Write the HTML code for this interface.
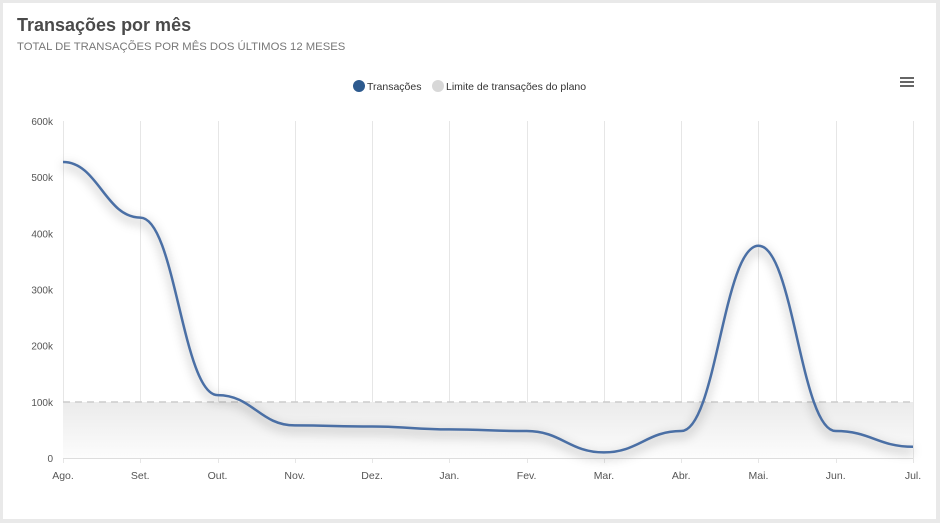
<!DOCTYPE html>
<html><head><meta charset="utf-8"><style>
body{margin:0;background:#e9e9e9;width:940px;height:523px;overflow:hidden;font-family:"Liberation Sans",sans-serif}
.card{position:absolute;left:3px;top:3px;width:933px;height:516px;background:#fff}
h1{position:absolute;left:17px;top:15px;margin:0;font-size:18px;font-weight:bold;color:#4a4a4a;font-family:"Liberation Sans",sans-serif}
.sub{position:absolute;left:17px;top:41px;font-size:11.3px;color:#777;font-family:"Liberation Sans",sans-serif}
svg{position:absolute;left:0;top:0}
</style></head><body>
<div class="card"></div>
<h1>Transações por mês</h1>
<div class="sub">TOTAL DE TRANSAÇÕES POR MÊS DOS ÚLTIMOS 12 MESES</div>
<svg id="s" width="940" height="523" font-family="Liberation Sans, sans-serif">
<defs>
<linearGradient id="g" x1="0" y1="0" x2="0" y2="1"><stop offset="0" stop-color="#ebebeb"/><stop offset="1" stop-color="#fcfcfc"/></linearGradient>
<filter id="sh" x="-10%" y="-10%" width="120%" height="130%"><feGaussianBlur stdDeviation="5"/></filter>
</defs>
<g id="grid"></g>
<rect x="63" y="402" width="850" height="56" fill="url(#g)"/>
<line x1="63" y1="402" x2="913" y2="402" stroke="#ccc" stroke-width="1.5" stroke-dasharray="7,5"/>
<line x1="63" y1="458.5" x2="913" y2="458.5" stroke="#ddd"/>
<path id="shadow" fill="none" stroke="#000" stroke-opacity="0.18" stroke-width="6" filter="url(#sh)" transform="translate(0,4)"/>
<path id="line" fill="none" stroke="#4a6fa5" stroke-width="2.5"/>
<circle cx="359" cy="86" r="6" fill="#2d5a8e"/>
<text x="367" y="90" font-size="10.5" fill="#333">Transações</text>
<circle cx="438" cy="86" r="6" fill="#d8d8d8"/>
<text x="446" y="90" font-size="10.5" fill="#333">Limite de transações do plano</text>
<g fill="#666"><rect x="900" y="77" width="14" height="2"/><rect x="900" y="81" width="14" height="2"/><rect x="900" y="85" width="14" height="2"/></g>
</svg>
<script>
var s=document.getElementById('grid');
var m=['Ago.','Set.','Out.','Nov.','Dez.','Jan.','Fev.','Mar.','Abr.','Mai.','Jun.','Jul.'];
var v=[527,428,112,58,56,51,48,10,48,378,48,20];
function X(i){return 63+i*850/11}function Y(k){return 458-k*337/600}
var h='';
for(var i=0;i<12;i++){var x=Math.round(X(i))+0.5;h+='<line x1="'+x+'" y1="121" x2="'+x+'" y2="463" stroke="#e6e6e6"/>';
h+='<text x="'+X(i)+'" y="479" font-size="10.5" fill="#555" text-anchor="middle">'+m[i]+'</text>';}
var yl=['0','100k','200k','300k','400k','500k','600k'];
for(var j=0;j<7;j++)h+='<text x="53" y="'+(Y(j*100)+4)+'" font-size="10" fill="#555" text-anchor="end">'+yl[j]+'</text>';
s.innerHTML=h;
var P=v.map(function(k,i){return[X(i),Y(k)]});
var d='M'+P[0][0]+' '+P[0][1],o=850/11*0.45;
for(var i=1;i<12;i++){d+=' C'+(P[i-1][0]+o)+' '+P[i-1][1]+' '+(P[i][0]-o)+' '+P[i][1]+' '+P[i][0]+' '+P[i][1];}
document.getElementById('line').setAttribute('d',d);
document.getElementById('shadow').setAttribute('d',d);
</script>
</body></html>
